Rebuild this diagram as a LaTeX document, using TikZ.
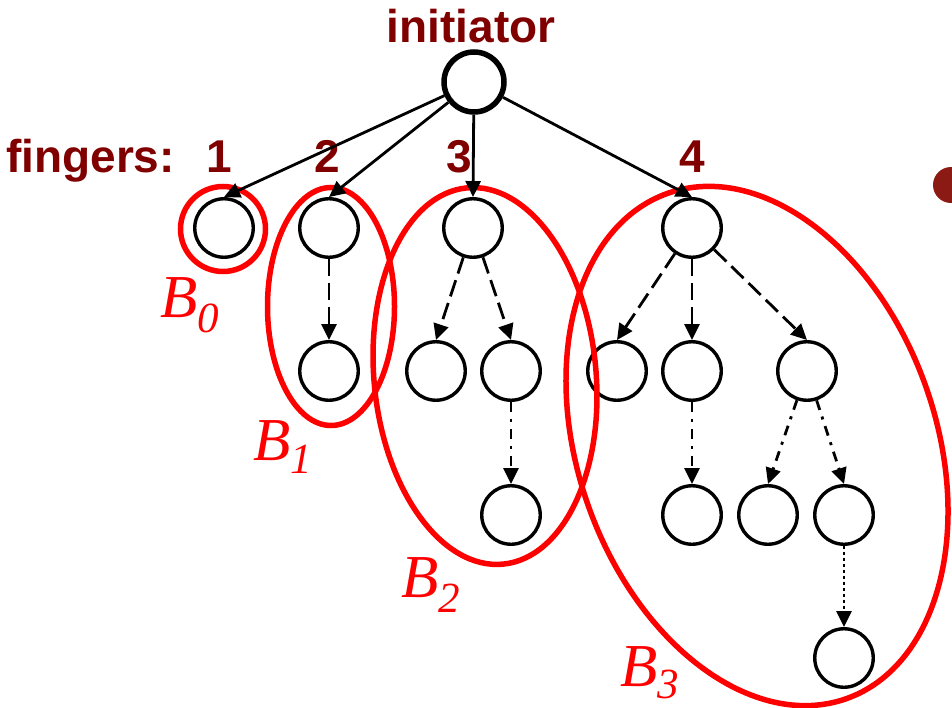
\documentclass[tikz,border=0pt]{standalone}
\usepackage{fontspec}
\setmainfont{Liberation Sans}
\newfontfamily\labelserif{Liberation Serif}
\usetikzlibrary{arrows.meta}
\definecolor{maroon}{RGB}{128,0,0}
\definecolor{bulletred}{RGB}{140,26,20}
\begin{document}
\begin{tikzpicture}[x=1pt,y=-1pt,
  vertex/.style={circle,draw,line width=3.4pt,minimum size=58.5pt,inner sep=0pt},
  root/.style={circle,draw,line width=5.5pt,minimum size=60pt,inner sep=0pt},
  link/.style={line width=2.8pt,-{Triangle[length=16pt,width=15pt]}},
  longdash/.style={dash pattern=on 17pt off 7pt},
  dashdotline/.style={dash pattern=on 10pt off 7pt on 3pt off 7pt},
  dotline/.style={dash pattern=on 3pt off 3pt},
  bag/.style={draw=red,line width=5.5pt},
  heading/.style={text=maroon,font=\fontsize{46}{46}\selectfont\bfseries,inner sep=0pt},
  bagname/.style={text=red,font=\labelserif\fontsize{61}{61}\selectfont\itshape,inner sep=0pt,anchor=base west}
]
\useasboundingbox (0,0) rectangle (952,708);

% headings
\node[heading,anchor=base] (title) at (471,43) {initiator};
\node[heading,anchor=base west] (fingers) at (6,173) {fingers:};
\node[heading,anchor=base] (k1) at (219,173) {1};
\node[heading,anchor=base] (k2) at (327.5,173) {2};
\node[heading,anchor=base] (k3) at (459.5,173) {3};
\node[heading,anchor=base] (k4) at (692.5,173) {4};

% tree nodes
\node[root] (init) at (474,82) {};
\node[vertex] (f1) at (224,228) {};
\node[vertex] (f2) at (329,228) {};
\node[vertex] (f3) at (473,228) {};
\node[vertex] (f4) at (692,228) {};
\node[vertex] (a) at (329,371) {};
\node[vertex] (b) at (436,371) {};
\node[vertex] (c) at (511,371) {};
\node[vertex] (d) at (617,371) {};
\node[vertex] (e) at (692,371) {};
\node[vertex] (g) at (807,371) {};
\node[vertex] (h) at (511,515) {};
\node[vertex] (i) at (692,515) {};
\node[vertex] (j) at (768,515) {};
\node[vertex] (k) at (844,515) {};
\node[vertex] (l) at (844,658) {};

% second-level links
\draw[link,longdash] (f2) -- (a.north);
\draw[link,longdash] (f3) -- (b.north);
\draw[link,longdash] (f3) -- (c.north);
\draw[link,longdash] (f4) -- (d.north);
\draw[link,longdash] (f4) -- (e.north);
\draw[link,longdash] (f4) -- (g.north);
% third-level links
\draw[link,dashdotline] (c) -- (h.north);
\draw[link,dashdotline] (e) -- (i.north);
\draw[link,dashdotline] (g) -- (j.north);
\draw[link,dashdotline] (g) -- (k.north);
% fourth-level link
\draw[link,dotline] (k) -- (l.north);

% buckets
\draw[bag] (223,229) circle (42.5);
\draw[bag] (331,306.5) ellipse [x radius=63.5, y radius=119];
\draw[bag,rotate around={5.5:(485,376)}] (485,376) ellipse [x radius=111, y radius=189];
\draw[bag,rotate around={19.5:(757,446)}] (757,446) ellipse [x radius=179, y radius=268];

% finger links from the initiator
\draw[link] (init) -- (f1.north);
\draw[link] (init) -- (f2.north);
\draw[link] (init) -- (f3.north);
\draw[link] (init) -- (f4.north);

% bucket names
\node[bagname] (B0) at (160,317) {B\raisebox{-15pt}{\fontsize{43}{43}\selectfont 0}};
\node[bagname] (B1) at (253,460) {B\raisebox{-13pt}{\fontsize{43}{43}\selectfont 1}};
\node[bagname] (B2) at (401,597) {B\raisebox{-15pt}{\fontsize{43}{43}\selectfont 2}};
\node[bagname] (B3) at (620,686) {B\raisebox{-12pt}{\fontsize{43}{43}\selectfont 3}};

% bullet at the right edge
\fill[bulletred] (951,185) circle (18);
\end{tikzpicture}
\end{document}
